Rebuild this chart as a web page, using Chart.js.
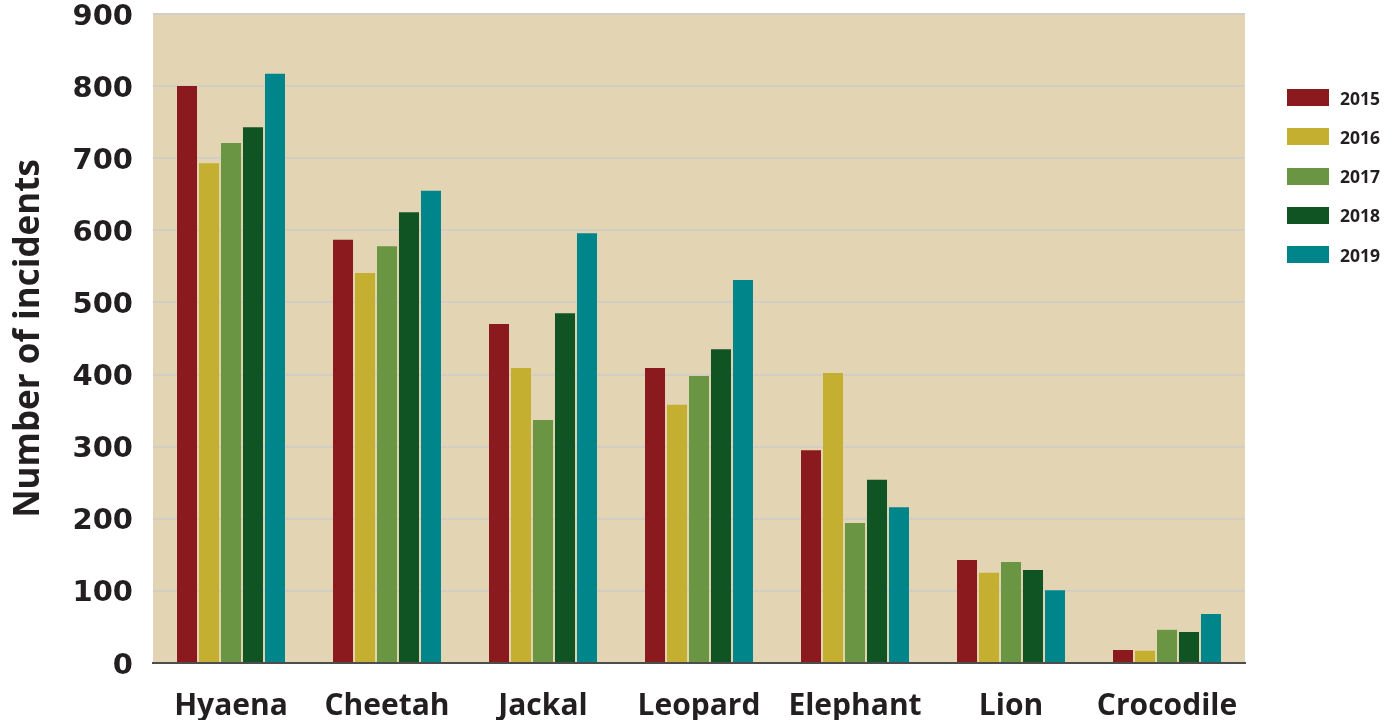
<!DOCTYPE html>
<html>
<head>
<meta charset="utf-8">
<script src="https://cdn.jsdelivr.net/npm/chart.js@4/dist/chart.umd.min.js"></script>
<style>
  html, body { margin: 0; padding: 0; background: #ffffff; }
  #wrap { position: relative; width: 1397px; height: 720px; overflow: hidden; }
  #legend { position: absolute; left: 1287px; top: 89px; margin: 0; padding: 0; list-style: none;
            font-family: "Open Sans", sans-serif; font-weight: 700; font-size: 17.5px; color: #231F20; }
  #legend li { display: flex; align-items: center; height: 17px; margin-bottom: 22.3px; }
  #legend .box { display: inline-block; width: 42px; height: 17px; margin-right: 11px; }
</style>
</head>
<body>
<div id="wrap">
  <canvas id="c" width="1397" height="720"></canvas>
  <ul id="legend"></ul>
</div>
<script>
// Animals and yearly incident counts
const categories = ['Hyaena', 'Cheetah', 'Jackal', 'Leopard', 'Elephant', 'Lion', 'Crocodile'];
const years = ['2015', '2016', '2017', '2018', '2019'];

const values2015 = [800, 587, 470, 409, 295, 143, 18];
const values2016 = [693, 541, 409, 358, 402, 125, 17];
const values2017 = [721, 578, 337, 398, 194, 140, 46];
const values2018 = [743, 625, 485, 435, 254, 129, 43];
const values2019 = [817, 655, 596, 531, 216, 101, 68];

const yTicks = [0, 100, 200, 300, 400, 500, 600, 700, 800, 900];

const seriesValues = [values2015, values2016, values2017, values2018, values2019];
const seriesColors = ['#8B1A1F', '#C4AF31', '#6A9643', '#115424', '#00858A'];

const TEXT = '#231F20';
const FONT = '"Open Sans", sans-serif';

// Beige plot panel behind the bars
const plotBackground = {
  id: 'plotBackground',
  beforeDraw(chart) {
    const { ctx, chartArea: a } = chart;
    ctx.save();
    ctx.fillStyle = '#E3D5B4';
    ctx.fillRect(a.left, a.top, a.right - a.left, a.bottom - a.top);
    ctx.restore();
  }
};

// HTML legend built from the datasets
const htmlLegend = {
  id: 'htmlLegend',
  afterUpdate(chart) {
    const ul = document.getElementById('legend');
    ul.innerHTML = '';
    chart.data.datasets.forEach(ds => {
      const li = document.createElement('li');
      const box = document.createElement('span');
      box.className = 'box';
      box.style.background = ds.backgroundColor;
      const label = document.createElement('span');
      label.textContent = ds.label;
      li.appendChild(box);
      li.appendChild(label);
      ul.appendChild(li);
    });
  }
};

const datasets = years.map((y, i) => ({
  label: y,
  data: seriesValues[i],
  backgroundColor: seriesColors[i],
  borderWidth: 0,
  categoryPercentage: 0.705,
  barPercentage: 0.91
}));

new Chart(document.getElementById('c'), {
  type: 'bar',
  data: { labels: categories, datasets },
  plugins: [plotBackground, htmlLegend],
  options: {
    responsive: false,
    animation: false,
    layout: { padding: { top: 0, right: 152, left: 0, bottom: 0 } },
    plugins: {
      legend: { display: false },
      tooltip: { enabled: false }
    },
    scales: {
      x: {
        grid: { display: false, drawTicks: false },
        border: { display: true, color: '#4D4D4D', width: 2 },
        ticks: {
          color: TEXT,
          padding: 25,
          font: { family: FONT, weight: '700', size: 30 }
        },
        afterFit(scale) { scale.height = 57; }
      },
      y: {
        min: 0,
        max: 900,
        afterBuildTicks(scale) { scale.ticks = yTicks.map(v => ({ value: v })); },
        grid: { color: '#D3CEC5', lineWidth: 2, drawTicks: false },
        border: { display: false },
        ticks: {
          color: TEXT,
          padding: 20,
          labelOffset: 3,
          font: { family: '"DejaVu Sans", sans-serif', weight: '700', size: 29 }
        },
        title: {
          display: true,
          text: 'Number of incidents',
          color: TEXT,
          font: { family: FONT, weight: '700', size: 35 },
          padding: { top: 8, bottom: 0 }
        },
        afterFit(scale) {
          scale.width = 153;
          scale.paddingTop = 14;
          scale.paddingBottom = 0;
        }
      }
    }
  }
});
</script>
</body>
</html>
